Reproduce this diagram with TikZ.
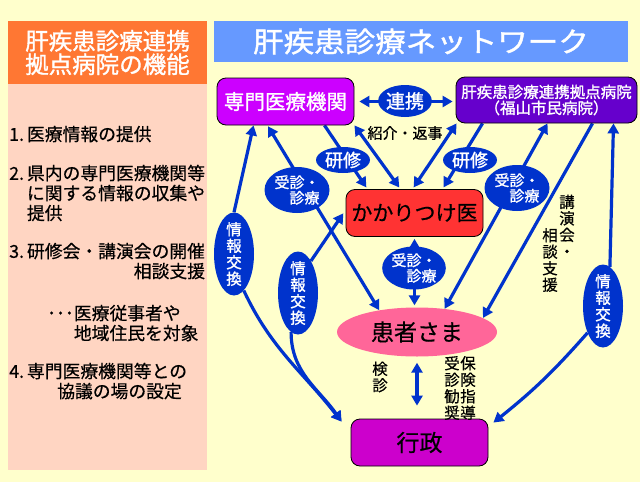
\documentclass[tikz,border=0pt]{standalone}
\usepackage{fontspec}
\setmainfont{Noto Sans CJK JP}[FakeBold=0.5]
\newfontfamily\heavyjp{Noto Sans CJK JP}[FakeBold=1.3]
\usetikzlibrary{positioning,shapes.geometric,arrows.meta}

\definecolor{paper}{HTML}{FFFFCC}
\definecolor{panelpeach}{HTML}{FFD5C2}
\definecolor{titleorange}{HTML}{FF7733}
\definecolor{titleblue}{HTML}{6699FF}
\definecolor{senmoncol}{HTML}{CC00FF}
\definecolor{kyotencol}{HTML}{6600CC}
\definecolor{kakaricol}{HTML}{FF3333}
\definecolor{kanjacol}{HTML}{FF6699}
\definecolor{gyoseicol}{HTML}{CC00CC}
\definecolor{linkblue}{HTML}{0033CC}

\newcommand{\jfs}[2]{\fontsize{#1}{#2}\selectfont}
\newcommand{\listno}[1]{\makebox[1em][l]{#1}}

\pgfdeclarelayer{back}
\pgfdeclarelayer{links}
\pgfsetlayers{back,links,main}

\begin{document}
\begin{tikzpicture}[x=1pt, y=-1pt,
  unitbox/.style={
    rectangle, draw=black, line width=0.8pt, rounded corners=9pt,
    inner sep=0pt, minimum width=137pt, minimum height=47pt
  },
  tagoval/.style={ellipse, fill=linkblue, text=white, inner sep=0pt},
  infooval/.style={
    tagoval, inner xsep=0pt, inner ysep=-4pt,
    minimum width=40pt, minimum height=83pt,
    align=center, font=\heavyjp\jfs{15.5}{16.5}
  },
  consultoval/.style={
    tagoval, minimum width=65pt, minimum height=46pt,
    align=left, font=\heavyjp\jfs{15}{15.5}
  },
  trainoval/.style={tagoval, minimum width=54pt, minimum height=26pt, font=\heavyjp\jfs{18}{18}},
  vlabel/.style={inner sep=0pt, align=center, font=\jfs{15.5}{16.5}},
  listline/.style={anchor=base west, inner sep=0pt, font=\jfs{17.8}{20}},
  link/.style={draw=linkblue, line width=3.2pt, >={Triangle[length=10pt,width=11pt]}}
]

\useasboundingbox (0,0) rectangle (640,482);
\begin{pgfonlayer}{back}
  \fill[paper] (0,0) rectangle (640,482);
  \fill[panelpeach] (8,84) rectangle (207,470);
\end{pgfonlayer}

% Titles
\node[fill=titleorange, text=white, minimum width=199pt, minimum height=63pt,
  inner sep=0pt, align=center, font=\heavyjp\jfs{23.5}{23.5}] (funcTitle) at (107.5,52.5)
  {肝疾患診療連携\\拠点病院の機能};
\node[fill=titleblue, text=white, minimum width=414pt, minimum height=41pt,
  inner sep=0pt, font=\heavyjp\jfs{28}{28}] (netTitle) at (421,41.5)
  {\scalebox{1.09}[1]{肝疾患診療ネットワーク}};

% Function list
\foreach \lx/\ly/\ltext [count=\i] in {
  9/134/{\listno{1.}医療情報の提供},
  9/173/{\listno{2.}県内の専門医療機関等},
  26.8/193/{に関する情報の収集や},
  26.8/213/{提供},
  9/251/{\listno{3.}研修会・講演会の開催},
  133.6/271/{相談支援},
  47/313/{･･･医療従事者や},
  73.7/333/{地域住民を対象},
  9/371/{\listno{4.}専門医療機関等との},
  57/391/{協議の場の設定}}
  \node[listline] (fn\i) at (\lx,\ly+6.8) {\ltext};

% Network nodes
\node[unitbox, fill=senmoncol, text=white, font=\heavyjp\jfs{20.5}{20.5}] (senmon) at (285.5,101.5) {専門医療機関};
\node[unitbox, fill=kyotencol, text=white, minimum width=181pt, minimum height=46pt,
  align=center, font=\heavyjp\jfs{15.5}{16}] (kyoten) at (546.5,100)
  {肝疾患診療連携拠点病院\\（福山市民病院）};
\node[unitbox, fill=kakaricol, font=\jfs{21}{21}] (kakari) at (414.5,213) {かかりつけ医};
\node[ellipse, fill=kanjacol, minimum width=160pt, minimum height=49pt,
  inner sep=0pt, font=\jfs{23}{23}] (kanja) at (417,332) {患者さま};
\node[unitbox, fill=gyoseicol, font=\jfs{23}{23}] (gyosei) at (419.5,442.5) {行政};

% Link labels
\node[tagoval, minimum width=53pt, minimum height=32pt, font=\heavyjp\jfs{19}{19}] (renkei) at (405,101) {連携};
\node[trainoval] (kenshuL) at (343,160) {研修};
\node[trainoval] (kenshuR) at (470,160) {研修};
\node[consultoval] (jushinL) at (297,190) {受診・\\\hspace*{1em}診療};
\node[consultoval] (jushinR) at (517,188) {受診・\\\hspace*{1em}診療};
\node[consultoval, minimum width=62pt, minimum height=43pt] (jushinC) at (414,268) {受診・\\\hspace*{1em}診療};
\node[infooval] (johoL) at (234,254) {情\\報\\交\\換};
\node[infooval] (johoM) at (298,293) {情\\報\\交\\換};
\node[infooval] (johoR) at (603,306) {情\\報\\交\\換};

\node[inner sep=0pt, font=\jfs{15}{15}] (shokai) at (405,133) {紹介・返事};
\node[vlabel] (kenshin) at (380,377) {検\\診};
\node[vlabel] (hoken) at (468,388) {保\\険\\指\\導};
\node[vlabel] (kansho) at (452,388) {受\\診\\勧\\奨};
\node[vlabel] (kouen) at (567,226) {講\\演\\会\\・};
\node[vlabel] (soudan) at (550,260) {相\\談\\支\\援};

\coordinate (gyoseiL) at ([xshift=-9pt,yshift=-3pt]gyosei.north west);
\coordinate (gyoseiR) at ([xshift=5pt,yshift=-4pt]gyosei.north east);

% Connectors
\begin{pgfonlayer}{links}
  \draw[link, <->, shorten <=5pt, shorten >=3pt] (senmon.east) -- (senmon.east -| kyoten.west);
  \draw[link, ->, shorten >=2pt] ([xshift=39pt]senmon.south) -- ([xshift=-47pt]kakari.north);
  \draw[link, ->, shorten >=2pt] ([xshift=-64pt]kyoten.south) -- ([xshift=28pt]kakari.north);
  \draw[link, <->, shorten >=2pt] (senmon.south east) -- ([xshift=-14pt]kakari.north);
  \draw[link, <->, shorten >=2pt] ([xshift=1pt]kyoten.south west) -- ([xshift=-2pt]kakari.north);
  \draw[link, <->, shorten <=1pt] ([xshift=-18pt]senmon.south) -- (kanja.150);
  \draw[link, <->] ([xshift=1pt]kyoten.south) -- (kanja.40);
  \draw[link, <->, shorten <=2pt, shorten >=2pt] (kakari.south) -- (kakari.south |- kanja.north);
  \draw[link, ->] ([xshift=46pt]kyoten.south) -- (kanja.12);
  \draw[link, <->, shorten <=6pt, shorten >=13pt] (kanja.south) -- (kanja.south |- gyosei.north);
  % information exchange
  \draw[link, <-] ([xshift=67pt]kyoten.south) -- (johoR.80);
  \draw[link, ->] (johoR.240) to[bend left=5] (gyoseiR);
  \draw[link, <-] ([xshift=-32pt]senmon.south) -- (johoL.north);
  \draw[link, ->] (johoL.-75) to[out=-65, in=128] (gyoseiL);
  \draw[link, <-, shorten <=4pt] ([yshift=3pt]kakari.west) -- (johoM.68);
  \draw[link, ->] (johoM.-100) to[out=-90, in=125] (gyoseiL);
\end{pgfonlayer}

\end{tikzpicture}
\end{document}
